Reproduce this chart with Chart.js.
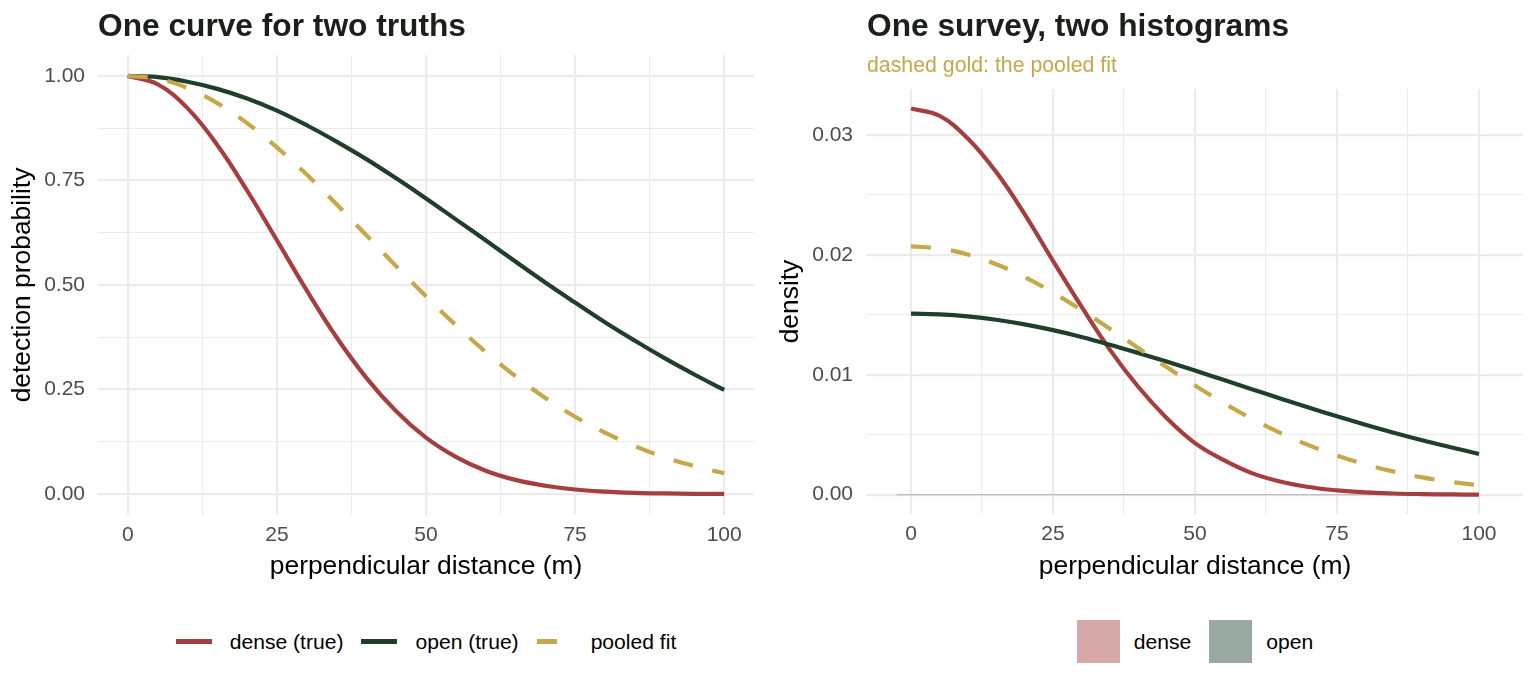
<!DOCTYPE html>
<html>
<head>
<meta charset="utf-8">
<script src="https://cdn.jsdelivr.net/npm/chart.js@4/dist/chart.umd.min.js"></script>
<style>
  body { margin: 0; background: #fff; font-family: "Liberation Sans", Arial, sans-serif; }
  #wrap { position: relative; width: 1536px; height: 691px; overflow: hidden; background: #fff; }
  canvas { position: absolute; top: 0; }
  .title { position: absolute; font-weight: bold; font-size: 31.7px; line-height: 1; color: #1b201d; white-space: nowrap; }
  .subtitle { position: absolute; font-size: 21.3px; line-height: 1; color: #c4a84c; white-space: nowrap; }
  .legend { position: absolute; top: 620px; height: 43px; display: flex; align-items: center; justify-content: center; font-size: 21.1px; color: #000; }
  .legend .item { display: flex; align-items: center; margin: 0 9px; }
  .legend .line { width: 36px; height: 4.5px; margin-right: 18px; }
  .legend .box { width: 43px; height: 43px; margin-right: 14px; }
</style>
</head>
<body>
<div id="wrap">
  <canvas id="leftChart" width="768" height="600" style="left:0"></canvas>
  <canvas id="rightChart" width="768" height="600" style="left:768px"></canvas>

  <div class="title" style="left:98px; top:10px">One curve for two truths</div>
  <div class="title" style="left:867px; top:10px">One survey, two histograms</div>
  <div class="subtitle" style="left:867px; top:55px">dashed gold: the pooled fit</div>

  <div class="legend" id="leftLegend" style="left:98px; width:656px"></div>
  <div class="legend" id="rightLegend" style="left:867px; width:656px"></div>
</div>

<script>
// perpendicular distance (m)
const distance = [0, 5, 10, 15, 20, 25, 30, 35, 40, 45, 50, 55, 60, 65, 70, 75, 80, 85, 90, 95, 100];

// detection probability (left panel)
const detectDense  = [1.000, 0.980, 0.923, 0.835, 0.726, 0.607, 0.487, 0.375, 0.278, 0.198, 0.135, 0.089, 0.056, 0.034, 0.020, 0.011, 0.006, 0.003, 0.0015, 0.0007, 0.0003];
const detectOpen   = [1.000, 0.997, 0.986, 0.969, 0.946, 0.917, 0.882, 0.843, 0.801, 0.755, 0.707, 0.657, 0.607, 0.556, 0.506, 0.458, 0.411, 0.367, 0.325, 0.286, 0.249];
const detectPooled = [1.000, 0.993, 0.971, 0.935, 0.887, 0.829, 0.764, 0.693, 0.619, 0.545, 0.473, 0.404, 0.340, 0.282, 0.230, 0.185, 0.147, 0.115, 0.088, 0.067, 0.050];

// density (right panel)
const densityDense  = [0.0322, 0.0316, 0.0297, 0.0269, 0.0234, 0.0195, 0.0157, 0.0121, 0.0090, 0.0064, 0.0043, 0.0029, 0.0018, 0.0011, 0.00064, 0.00036, 0.00019, 0.0001, 0.00005, 0.00002, 0.00001];
const densityOpen   = [0.01510, 0.01504, 0.01487, 0.01459, 0.01420, 0.01372, 0.01315, 0.01251, 0.01182, 0.01110, 0.01035, 0.00958, 0.00880, 0.00803, 0.00727, 0.00654, 0.00584, 0.00517, 0.00454, 0.00396, 0.00340];
const densityPooled = [0.0207, 0.02053, 0.02003, 0.01922, 0.01815, 0.01685, 0.01540, 0.01384, 0.01223, 0.01064, 0.00910, 0.00766, 0.00634, 0.00516, 0.00413, 0.00326, 0.00253, 0.00193, 0.00144, 0.00107, 0.00077];

// histograms of the two habitats (empty bins, drawn as a flat baseline)
const histEdges = [-2.5, 100];
const histDense = [0, 0];
const histOpen  = [0, 0];

// tick positions (major labelled, minor only gridlines)
const xMajor = [0, 25, 50, 75, 100];
const xMinor = [12.5, 37.5, 62.5, 87.5];
const probMajor = [0, 0.25, 0.5, 0.75, 1];
const probMinor = [0.125, 0.375, 0.625, 0.875];
const densMajor = [0, 0.01, 0.02, 0.03];
const densMinor = [0.005, 0.015, 0.025];

const RED = '#a53e3e';
const GREEN = '#1f3f2b';
const GOLD = '#c6a84a';
const GRID = '#ebebeb';
const TICK_COLOR = '#4d4d4d';
const FONT = '"Liberation Sans", Arial, sans-serif';

function pts(xs, ys) {
    return xs.map((x, i) => ({ x: x, y: ys[i] }));
}

function isIn(list, v) {
    return list.some(m => Math.abs(m - v) < 1e-9);
}

function curve(label, data, color, order, dashed) {
    return {
        label: label,
        data: data,
        borderColor: color,
        borderWidth: 4.2,
        borderDash: dashed ? [20, 20] : [],
        pointRadius: 0,
        fill: false,
        order: order,
        tension: 0.4
    };
}

function makeScales(opts) {
    const allX = xMajor.concat(xMinor).sort((a, b) => a - b);
    const allY = opts.yMajor.concat(opts.yMinor).sort((a, b) => a - b);
    return {
        x: {
            type: 'linear',
            min: opts.xMin,
            max: opts.xMax,
            afterBuildTicks: s => { s.ticks = allX.map(v => ({ value: v })); },
            afterFit: s => { s.height = opts.xHeight; },
            border: { display: false },
            grid: {
                drawTicks: false,
                color: GRID,
                lineWidth: c => isIn(xMajor, c.tick.value) ? 2.2 : 1.1
            },
            ticks: {
                autoSkip: false,
                maxRotation: 0,
                padding: 8,
                color: TICK_COLOR,
                font: { family: FONT, size: 21 },
                callback: v => isIn(xMajor, v) ? String(v) : ''
            },
            title: {
                display: true,
                text: 'perpendicular distance (m)',
                color: '#000',
                font: { family: FONT, size: 26.4 },
                padding: { top: 0, bottom: 17 }
            }
        },
        y: {
            type: 'linear',
            min: opts.yMin,
            max: opts.yMax,
            afterBuildTicks: s => { s.ticks = allY.map(v => ({ value: v })); },
            afterFit: s => { s.width = opts.yWidth; },
            border: { display: false },
            grid: {
                drawTicks: false,
                color: GRID,
                lineWidth: c => isIn(opts.yMajor, c.tick.value) ? 2.2 : 1.1
            },
            ticks: {
                autoSkip: false,
                padding: opts.yPad,
                color: TICK_COLOR,
                font: { family: FONT, size: 21 },
                callback: v => isIn(opts.yMajor, v) ? v.toFixed(2) : ''
            },
            title: {
                display: true,
                text: opts.yTitle,
                color: '#000',
                font: { family: FONT, size: 26.4 },
                padding: { top: 7, bottom: 0 }
            }
        }
    };
}

const baseOptions = {
    responsive: false,
    animation: false,
    plugins: { legend: { display: false }, tooltip: { enabled: false } }
};

new Chart(document.getElementById('leftChart').getContext('2d'), {
    type: 'line',
    data: {
        datasets: [
            curve('pooled fit', pts(distance, detectPooled), GOLD, 0, true),
            curve('open (true)', pts(distance, detectOpen), GREEN, 1, false),
            curve('dense (true)', pts(distance, detectDense), RED, 2, false)
        ]
    },
    options: Object.assign({}, baseOptions, {
        layout: { padding: { left: 0, right: 14, top: 55, bottom: 0 } },
        scales: makeScales({
            xMin: -5, xMax: 105, xHeight: 85,
            yMin: -0.05, yMax: 1.05, yWidth: 98, yPad: 13,
            yMajor: probMajor, yMinor: probMinor,
            yTitle: 'detection probability'
        })
    })
});

new Chart(document.getElementById('rightChart').getContext('2d'), {
    type: 'line',
    data: {
        datasets: [
            curve('pooled fit', pts(distance, densityPooled), GOLD, 0, true),
            curve('open', pts(distance, densityOpen), GREEN, 1, false),
            curve('dense', pts(distance, densityDense), RED, 2, false),
            { label: 'open hist', data: pts(histEdges, histOpen), borderColor: 'rgba(154,170,159,0.45)', borderWidth: 1.2, pointRadius: 0, order: 3 },
            { label: 'dense hist', data: pts(histEdges, histDense), borderColor: 'rgba(214,167,167,0.45)', borderWidth: 1.2, pointRadius: 0, order: 4 }
        ]
    },
    options: Object.assign({}, baseOptions, {
        layout: { padding: { left: 0, right: 13, top: 89, bottom: 0 } },
        scales: makeScales({
            xMin: -7.75, xMax: 107.75, xHeight: 86,
            yMin: -0.00161, yMax: 0.03383, yWidth: 99, yPad: 14,
            yMajor: densMajor, yMinor: densMinor,
            yTitle: 'density'
        })
    })
});

// legends
const lineKeys = [
    { label: 'dense (true)', color: RED, dashed: false },
    { label: 'open (true)', color: GREEN, dashed: false },
    { label: 'pooled fit', color: GOLD, dashed: true }
];
const boxKeys = [
    { label: 'dense', color: '#d6a8a8' },
    { label: 'open', color: '#9aa99f' }
];

document.getElementById('leftLegend').innerHTML = lineKeys.map(k => `
    <div class="item">
        <div class="line" style="background:${k.dashed ? `linear-gradient(to right, ${k.color} 0 20px, transparent 20px)` : k.color}"></div>
        <span>${k.label}</span>
    </div>
`).join('');

document.getElementById('rightLegend').innerHTML = boxKeys.map(k => `
    <div class="item">
        <div class="box" style="background:${k.color}"></div>
        <span>${k.label}</span>
    </div>
`).join('');
</script>
</body>
</html>
